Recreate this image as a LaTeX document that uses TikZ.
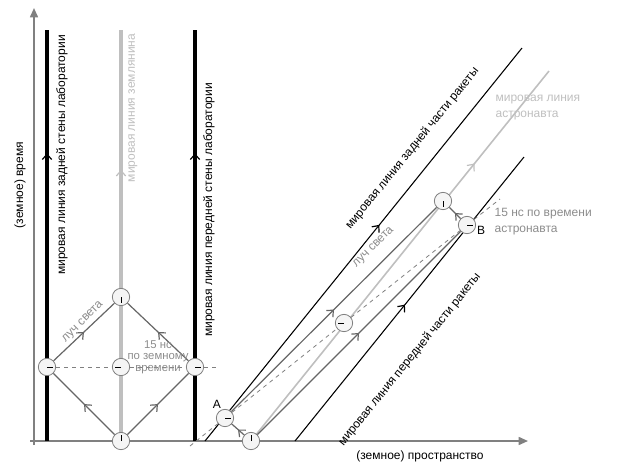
\documentclass[tikz,border=0pt]{standalone}
\usepackage{fontspec}
\setmainfont{Liberation Sans}
\usetikzlibrary{arrows.meta,decorations.markings}
\definecolor{axg}{gray}{0.5}
\definecolor{rayg}{gray}{0.4}
\definecolor{lg}{gray}{0.75}
\definecolor{txg}{gray}{0.55}
\begin{document}
\begin{tikzpicture}[x=0.75pt,y=-0.75pt,font=\fontsize{9}{10}\selectfont,
  mid/.style={postaction={decorate},decoration={markings,mark=at position #1 with {\arrow{Straight Barb[length=4pt,width=7pt,line width=0.9pt]}}}},
  mid/.default=0.5,
  ray/.style={rayg,line width=0.9pt,mid},
  wall/.style={black,line width=3pt},
  rk/.style={black,line width=0.8pt},
  clk/.style={circle,draw=axg,fill=gray!8,line width=0.6pt,minimum size=13pt,inner sep=0pt},
  lab/.style={inner sep=1pt}]
\useasboundingbox (0,0) rectangle (640,469);
% axes
\coordinate (o) at (34,441);
\coordinate (ty) at (34,8);
\coordinate (tx) at (528,441);
\draw[axg,line width=1.2pt,-{Triangle[length=7pt,width=6pt]}] (34,445) -- (ty);
\draw[axg,line width=1.2pt,-{Triangle[length=7pt,width=6pt]}] (30,441) -- (tx);
% walls
\draw[wall,mid=0.7] (47,441) -- (47,30);
\draw[lg,line width=3pt,mid=0.66] (121,441) -- (121,30);
\draw[wall,mid=0.7] (195,441) -- (195,30);
% diamond
\node[clk] (b) at (121,441) {};
\node[clk] (l) at (47,367) {};
\node[clk] (t) at (121,297) {};
\node[clk] (r) at (195,367) {};
\node[clk] (c) at (121,367) {};
\coordinate (dashe) at (218,367);
\draw[axg,dashed,line width=0.6pt] (l) -- (c) -- (r) -- (dashe);
\draw[ray] (b) -- (l);
\draw[ray] (l) -- (t);
\draw[ray] (b) -- (r);
\draw[ray] (r) -- (t);
% rocket
\draw[rk,mid=0.55] (205,441) -- (522,48);
\draw[lg,line width=1.2pt,mid=0.75] (251,441) -- (549,71);
\draw[rk,mid=0.48] (295,441) -- (524,157);
\node[clk] (o2) at (251,441) {};
\node[clk] (A) at (225,418) {};
\node[clk] (B) at (467,225) {};
\node[clk] (T) at (443,201) {};
\node[clk] (M) at (344,323) {};
\coordinate (d1) at (190,446);
\coordinate (d2) at (500,199);
\draw[axg,dashed,line width=0.6pt] (d1) -- (A) -- (M) -- (B) -- (d2);
\draw[ray] (o2) -- (A);
\draw[ray] (A) -- (T);
\draw[ray] (o2) -- (B);
\draw[ray] (B) -- (T);
% clock hands
\foreach \n/\a in {b/90,l/0,t/-90,r/0,c/180,o2/90,A/0,B/0,T/-90,M/180}
  \draw[black,line width=0.6pt] (\n.center) -- ++(\a:4.5pt);
% texts
\node[lab,rotate=90] (ty1) at (20,185) {(земное) время};
\node[lab,rotate=90] (w1) at (62,155) {мировая линия задней стены лаборатории};
\node[lab,rotate=90,text=lg] (w2) at (133,108) {мировая линия землянина};
\node[lab,rotate=90] (w3) at (209,210) {мировая линия передней стены лаборатории};
\node[lab,rotate=45,text=txg] (ls1) at (83,322) {луч света};
\node[lab,text=txg,align=center,font=\fontsize{8.5}{8.5}\selectfont] (t15) at (158,357) {15 нс\\по земному\\времени};
\node[lab] (la) at (217,404) {A};
\node[lab] (lb) at (481,230) {B};
\node[lab,text=txg,align=left,anchor=west,font=\fontsize{9}{12}\selectfont] (t15b) at (493,222) {15 нс по времени\\астронавта};
\node[lab,text=lg,align=left,anchor=west,font=\fontsize{9}{12}\selectfont] (ast) at (494,108) {мировая линия\\астронавта};
\node[lab,rotate=51,anchor=south] (rb) at (418,153) {мировая линия задней части ракеты};
\node[lab,rotate=45,text=txg,anchor=south] (ls2) at (378,252) {луч света};
\node[lab,rotate=51,anchor=north] (rf) at (404,355) {мировая линия передней части ракеты};
\node[lab] (sx) at (420,456) {(земное) пространство};
\end{tikzpicture}
\end{document}
